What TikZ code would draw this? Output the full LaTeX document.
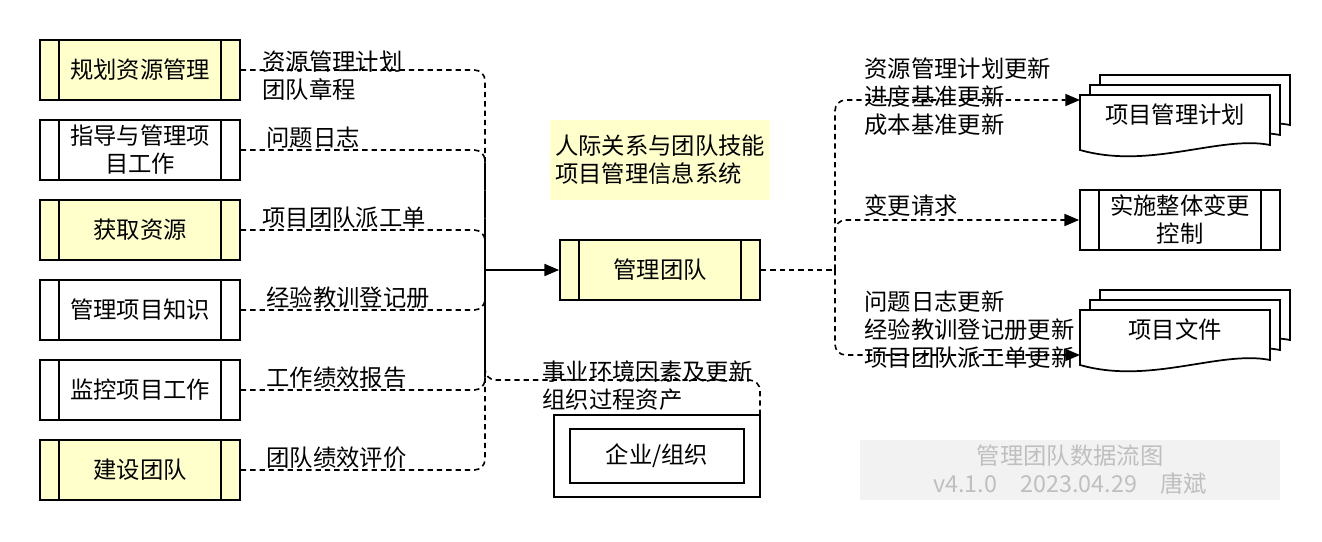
\documentclass[tikz,border=0pt]{standalone}
\usepackage{fontspec}
\setmainfont{Noto Sans CJK SC}
\usetikzlibrary{arrows.meta,calc}
\definecolor{ly}{HTML}{FFFFCC}
\begin{document}
\begin{tikzpicture}[x=0.75pt,y=-0.75pt,font=\fontsize{17.5}{21}\selectfont,
  proc/.style={draw,line width=1.3pt,minimum width=150pt,minimum height=45pt,inner sep=0pt,align=center,text width=110pt},
  flow/.style={dash pattern=on 4pt off 3pt,line width=1.2pt,rounded corners=8pt},
  arr/.style={-{Triangle[length=11pt,width=9pt]}},
  lbl/.style={anchor=south west,inner sep=1pt,align=left}]
\useasboundingbox (0,0) rectangle (1322,542);
\newcommand{\bars}[1]{\draw[line width=1.3pt] ($(#1.north west)+(15pt,0)$) -- ($(#1.south west)+(15pt,0)$) ($(#1.north east)+(-15pt,0)$) -- ($(#1.south east)+(-15pt,0)$);}
\node[proc,fill=ly] (b1) at (140,70) {规划资源管理};
\node[proc] (b2) at (140,150) {指导与管理项\\目工作};
\node[proc,fill=ly] (b3) at (140,230) {获取资源};
\node[proc] (b4) at (140,310) {管理项目知识};
\node[proc] (b5) at (140,390) {监控项目工作};
\node[proc,fill=ly] (b6) at (140,470) {建设团队};
\foreach \b in {b1,b2,b3,b4,b5,b6}{\bars{\b}}
\node[proc,fill=ly] (c) at (660,270) {管理团队};
\bars{c}
\node[fill=ly,minimum width=165pt,minimum height=60pt,align=left,inner sep=3pt] (note) at (660,160) {人际关系与团队技能\\项目管理信息系统};
\node[draw,line width=1.3pt,minimum width=154pt,minimum height=62pt] (ent) at (657,456) {};
\node[draw,line width=1.3pt,minimum width=131pt,minimum height=41pt] (ent2) at (657,456) {企业/组织};
\node[proc] (r2) at (1180,220) {实施整体变更\\控制};
\bars{r2}
\newcommand{\doc}[3]{%
 \foreach \d in {20,10,0}{
 \draw[line width=1.3pt,fill=white] (#1+\d,#2-\d) -- (#1+190+\d,#2-\d) -- (#1+190+\d,#2+50-\d) .. controls (#1+140+\d,#2+40-\d) and (#1+70+\d,#2+75-\d) .. (#1+\d,#2+55-\d) -- cycle;}
 \node (#3) at (#1+95,#2+22) {};}
\doc{1080}{95}{d1}
\node at (1175,115) {项目管理计划};
\doc{1080}{310}{d3}
\node at (1175,330) {项目文件};
\coordinate (d1w) at (1080,100);
\coordinate (d3w) at (1080,355);
\coordinate (j) at (485,270);
\foreach \b in {b1,b2,b3,b4,b5,b6}{\draw[flow] (\b.east) -| (j);}
\coordinate (e1) at (760,415);
\draw[flow] (e1) |- (485,380) -- (j);
\draw[line width=1.3pt,arr] (j) -- (c.west);
\coordinate (s) at (835,270);
\draw[flow] (c.east) -- (s);
\draw[flow,arr] (s) |- (d1w);
\draw[flow,arr] (s) |- (r2.west);
\draw[flow,arr] (s) |- (d3w);
\node[lbl] at (261,102) {资源管理计划\\团队章程};
\node[lbl] at (265,150) {问题日志};
\node[lbl] at (261,230) {项目团队派工单};
\node[lbl] at (265,310) {经验教训登记册};
\node[lbl] at (265,390) {工作绩效报告};
\node[lbl] at (265,470) {团队绩效评价};
\node[lbl] at (541,412) {事业环境因素及更新\\组织过程资产};
\node[lbl] at (863,137) {资源管理计划更新\\进度基准更新\\成本基准更新};
\node[lbl] at (863,218) {变更请求};
\node[lbl] at (863,370) {问题日志更新\\经验教训登记册更新\\项目团队派工单更新};
\node[fill=black!5,minimum width=315pt,minimum height=45pt,text=black!25,align=center] (wm) at (1070,470) {管理团队数据流图\\v4.1.0\quad 2023.04.29\quad 唐斌};
\end{tikzpicture}
\end{document}
